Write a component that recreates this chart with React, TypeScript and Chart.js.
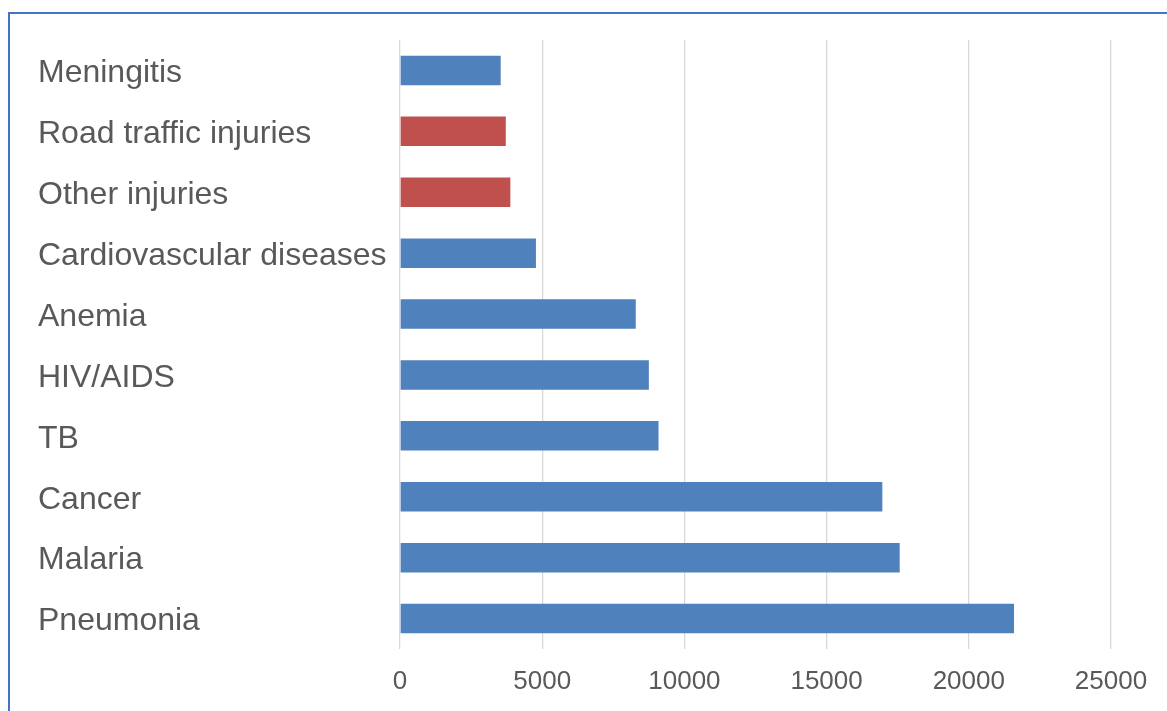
import React, { useEffect, useRef } from "react";
import { Chart, registerables } from "chart.js";

Chart.register(...registerables);

const categories = [
  "Meningitis",
  "Road traffic injuries",
  "Other injuries",
  "Cardiovascular diseases",
  "Anemia",
  "HIV/AIDS",
  "TB",
  "Cancer",
  "Malaria",
  "Pneumonia",
];
const deaths = [3540, 3720, 3880, 4780, 8290, 8750, 9090, 16960, 17570, 21590];
const injuryCategories = ["Road traffic injuries", "Other injuries"];
const xTicks = [0, 5000, 10000, 15000, 20000, 25000];

const BLUE = "#4F81BD";
const RED = "#C0504D";
const FONT = "'Liberation Sans', Arial, sans-serif";

export default function App() {
  const ref = useRef<HTMLCanvasElement | null>(null);

  useEffect(() => {
    if (!ref.current) return;
    const chart = new Chart(ref.current, {
      type: "bar",
      data: {
        labels: categories,
        datasets: [
          {
            data: deaths,
            backgroundColor: categories.map((c) =>
              injuryCategories.includes(c) ? RED : BLUE
            ),
            categoryPercentage: 1,
            barPercentage: 0.485,
            borderWidth: 0,
          },
        ],
      },
      options: {
        indexAxis: "y",
        animation: false,
        responsive: false,
        maintainAspectRatio: false,
        layout: { padding: { left: 28, top: 26, right: 56, bottom: 12 } },
        plugins: {
          legend: { display: false },
          tooltip: { enabled: false },
        },
        scales: {
          x: {
            min: xTicks[0],
            max: xTicks[xTicks.length - 1],
            afterBuildTicks: (scale: any) => {
              scale.ticks = xTicks.map((v) => ({ value: v }));
            },
            afterFit: (scale: any) => {
              scale.height = 50;
            },
            grid: {
              color: "#D9D9D9",
              lineWidth: 1.3,
              drawTicks: false,
            },
            border: { display: false },
            ticks: {
              color: "#595959",
              font: { family: FONT, size: 26 },
              padding: 17,
              maxRotation: 0,
              autoSkip: false,
              callback: (v: any) => String(v),
            },
          },
          y: {
            afterFit: (scale: any) => {
              scale.width = 362;
            },
            grid: { display: false },
            border: { display: false },
            ticks: {
              crossAlign: "far",
              color: "#595959",
              font: { family: FONT, size: 32 },
              autoSkip: false,
              labelOffset: 3,
            },
          },
        },
      },
    });
    return () => chart.destroy();
  }, []);

  return (
    <div
      style={{
        position: "fixed",
        left: 0,
        top: 0,
        width: 1167,
        height: 711,
        overflow: "hidden",
        background: "#fff",
      }}
    >
      <div
        style={{
          position: "absolute",
          left: 8,
          top: 12,
          width: 1200,
          height: 760,
          border: "2px solid #4472C4",
          boxSizing: "border-box",
        }}
      >
        <canvas
          ref={ref}
          width={1157}
          height={697}
          style={{ display: "block", width: 1157, height: 697 }}
        />
      </div>
    </div>
  );
}
